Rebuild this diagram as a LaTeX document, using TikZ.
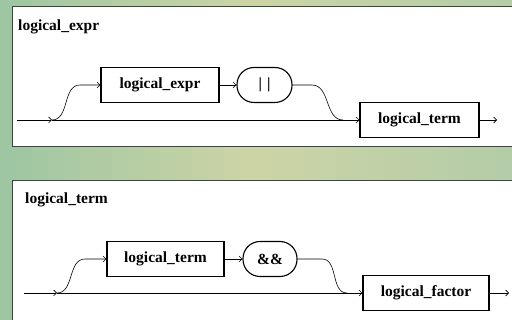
\documentclass[tikz,border=0pt]{standalone}
\usepackage{fontspec}
\setmainfont{Liberation Serif}
\usetikzlibrary{arrows.meta}
\definecolor{bgA}{RGB}{158,198,162}
\definecolor{bgB}{RGB}{204,212,166}
\definecolor{bgC}{RGB}{180,204,168}
\definecolor{frame}{RGB}{60,70,60}
\newcommand{\dfnt}{\fontsize{15.5}{18}\selectfont\bfseries}
\begin{document}
\begin{tikzpicture}[x=1pt,y=-1pt,
  arr/.style={-{Straight Barb[length=3pt,width=6pt]}, line width=0.6pt},
  conn/.style={line width=0.6pt},
  ntbox/.style={draw, line width=1.1pt, minimum height=35pt, inner sep=0pt},
  tbox/.style={ntbox, rounded corners=17pt},
  title/.style={anchor=west, inner sep=0pt},
  panel/.style={fill=white, draw=frame, line width=0.8pt}]
\useasboundingbox (0,0) rectangle (512,320);
% background: stepped gradient
\foreach \i in {0,...,15}{
  \pgfmathtruncatemacro{\p}{100-\i*100/15}
  \fill[bgA!\p!bgB] (\i*16,0) rectangle (\i*16+16.5,320);
}
\foreach \i in {16,...,31}{
  \pgfmathtruncatemacro{\p}{100-(\i-16)*100/15}
  \fill[bgB!\p!bgC] (\i*16,0) rectangle (\i*16+16.5,320);
}
% panels
\draw[panel] (12,6) rectangle (518,146);
\draw[panel] (12,180) rectangle (518,326);
% top diagram
\node[title] (T1) at (18,27) {\dfnt logical\_expr};
\node[ntbox, minimum width=118pt] (A1) at (160,85) {\dfnt logical\_expr};
\node[tbox, minimum width=55pt] (B1) at (264.5,85) {\dfnt |\,\,|};
\node[ntbox, minimum width=119pt] (C1) at (419.5,120) {\dfnt logical\_term};
\coordinate (s1) at (17,120);
\coordinate (f1) at (52,120);
\coordinate (u1) at (80,85);
\coordinate (r1) at (312,85);
\coordinate (j1) at (343,120);
\coordinate (e1) at (497,120);
\draw[arr] (s1) -- (f1);
\draw[arr] (f1) -- (C1.west);
\draw[arr] (f1) to[out=0,in=180] (u1) -- (A1.west);
\draw[arr] (A1.east) -- (B1.west);
\draw[conn] (B1.east) -- (r1) to[out=0,in=180] (j1);
\draw[arr] (C1.east) -- (e1);
% bottom diagram
\node[title] (T2) at (25,200) {\dfnt logical\_term};
\node[ntbox, minimum width=117pt] (A2) at (165.5,259) {\dfnt logical\_term};
\node[tbox, minimum width=54pt] (B2) at (270,259) {\dfnt \&\&};
\node[ntbox, minimum width=126pt] (C2) at (426,293) {\dfnt logical\_factor};
\coordinate (s2) at (24,293);
\coordinate (f2) at (57,293);
\coordinate (u2) at (85,259);
\coordinate (r2) at (322,259);
\coordinate (j2) at (347,293);
\coordinate (e2) at (509,293);
\draw[arr] (s2) -- (f2);
\draw[arr] (f2) -- (C2.west);
\draw[arr] (f2) to[out=0,in=180] (u2) -- (A2.west);
\draw[arr] (A2.east) -- (B2.west);
\draw[conn] (B2.east) -- (r2) to[out=0,in=180] (j2);
\draw[arr] (C2.east) -- (e2);
\end{tikzpicture}
\end{document}
